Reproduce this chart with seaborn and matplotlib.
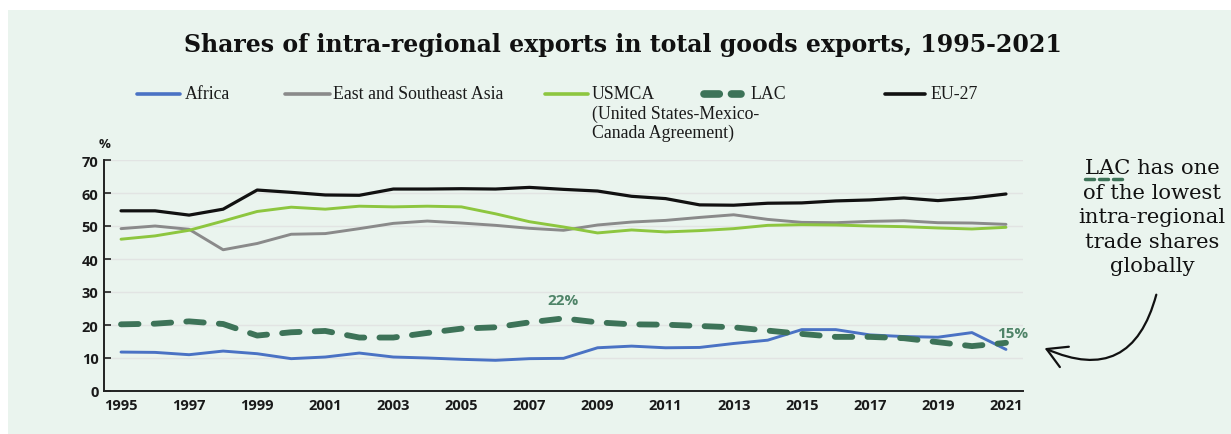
import numpy as np
import pandas as pd
import seaborn as sns
import matplotlib.pyplot as plt
from matplotlib.lines import Line2D
from matplotlib.patches import Rectangle, FancyArrowPatch

# Intra-regional exports as a share of total goods exports (%)
years = list(range(1995, 2022))
africa = [11.8, 11.7, 11.0, 12.1, 11.3, 9.8, 10.3, 11.5, 10.3, 10.0, 9.6, 9.3, 9.8, 9.9,
          13.1, 13.6, 13.1, 13.2, 14.4, 15.4, 18.6, 18.6, 17.0, 16.5, 16.3, 17.7, 12.6]
east_se_asia = [49.2, 50.0, 49.0, 42.8, 44.7, 47.5, 47.7, 49.2, 50.8, 51.5, 50.9, 50.2, 49.3, 48.7,
                50.3, 51.2, 51.7, 52.6, 53.4, 52.0, 51.1, 51.0, 51.4, 51.6, 51.0, 50.9, 50.5]
usmca = [46.0, 47.0, 48.7, 51.5, 54.4, 55.7, 55.1, 56.0, 55.8, 56.0, 55.8, 53.7, 51.3, 49.7,
         47.9, 48.8, 48.2, 48.6, 49.2, 50.2, 50.4, 50.3, 50.0, 49.8, 49.4, 49.1, 49.6]
lac = [20.2, 20.4, 21.1, 20.3, 16.8, 17.8, 18.2, 16.2, 16.2, 17.6, 18.9, 19.3, 20.8, 22.0,
       20.8, 20.2, 20.1, 19.7, 19.3, 18.3, 17.3, 16.4, 16.4, 16.0, 14.8, 13.6, 14.6]
eu27 = [54.6, 54.6, 53.3, 55.1, 60.9, 60.2, 59.4, 59.3, 61.2, 61.2, 61.3, 61.2, 61.7, 61.1,
        60.6, 59.0, 58.3, 56.4, 56.3, 56.9, 57.0, 57.6, 57.9, 58.5, 57.7, 58.5, 59.7]

regions = ["Africa", "East and Southeast Asia", "USMCA", "LAC", "EU-27"]
legend_labels = [["Africa"], ["East and Southeast Asia"],
                 ["USMCA", "(United States-Mexico-", "Canada Agreement)"], ["LAC"], ["EU-27"]]
y_ticks = [0, 10, 20, 30, 40, 50, 60, 70]
x_labels = [str(y) for y in years if y % 2 == 1]
note_lines = ["LAC has one", "of the lowest", "intra-regional", "trade shares", "globally"]

BG = "#eaf4ee"
colors = {"Africa": "#4a72c4", "East and Southeast Asia": "#8a8a8a",
          "USMCA": "#8dc63f", "LAC": "#3d7358", "EU-27": "#111111"}
LAC_LABEL = "#4f8468"
SANS = ["Open Sans", "DejaVu Sans"]

df = pd.DataFrame({"year": years, "Africa": africa, "East and Southeast Asia": east_se_asia,
                   "USMCA": usmca, "LAC": lac, "EU-27": eu27})
long = df.melt(id_vars="year", var_name="region", value_name="share")

sns.set_theme(style="white")
plt.rcParams["font.family"] = ["DejaVu Sans"]

W, H = 1231, 435
fig = plt.figure(figsize=(W / 100, H / 100), dpi=100)
fig.patch.set_facecolor("white")
fig.add_artist(Rectangle((8 / W, 0), 1 - 8 / W, 1 - 11 / H, transform=fig.transFigure,
                         facecolor=BG, edgecolor="none", zorder=-10))


def fx(px):
    return px / W


def fy(py):
    return (H - py) / H


ax = fig.add_axes([fx(104), fy(392), (1023 - 104) / W, (392 - 161) / H])
ax.set_facecolor("none")

styles = {
    "Africa": dict(lw=2.1),
    "East and Southeast Asia": dict(lw=2.1),
    "USMCA": dict(lw=2.1),
    "LAC": dict(lw=4.2, linestyle=(0, (3.0, 2.6)), dash_capstyle="round"),
    "EU-27": dict(lw=2.3),
}
for name in regions:
    sub = long[long["region"] == name]
    sns.lineplot(data=sub, x="year", y="share", color=colors[name], ax=ax,
                 legend=False, **styles[name])

ax.set_xlim(1994.5, 2021.5)
ax.set_ylim(0, 70)
ax.set_xticks([int(l) for l in x_labels])
ax.set_xticklabels(x_labels)
ax.set_xticks(np.arange(1994.5, 2022, 1.0), minor=True)
ax.set_yticks(y_ticks)
ax.set_xlabel("")
ax.set_ylabel("")
ax.tick_params(axis="x", which="major", length=0, pad=5)
ax.tick_params(axis="x", which="minor", direction="in", length=5, width=1.2, color="#222222")
ax.tick_params(axis="y", direction="in", length=5, width=1.2, color="#222222", pad=4, left=True)
for lab in ax.get_xticklabels() + ax.get_yticklabels():
    lab.set_fontfamily(SANS)
    lab.set_fontweight("bold")
    lab.set_fontsize(10.5)
    lab.set_color("#1a1a1a")
for side in ("top", "right"):
    ax.spines[side].set_visible(False)
for side in ("left", "bottom"):
    ax.spines[side].set_color("#222222")
    ax.spines[side].set_linewidth(1.4)
ax.grid(axis="y", color="#e2e4e3", lw=1)
ax.set_axisbelow(True)

# value call-outs on the LAC series
i_peak = years.index(2008)
ax.annotate(f"{round(lac[i_peak])}%", (years[i_peak], lac[i_peak]), xytext=(0, 13),
            textcoords="offset points", ha="center", va="center", fontsize=11,
            fontweight="bold", color=LAC_LABEL, fontfamily=SANS)
ax.annotate(f"{round(lac[-1])}%", (years[-1], lac[-1]), xytext=(5, 7),
            textcoords="offset points", ha="center", va="center", fontsize=11,
            fontweight="bold", color=LAC_LABEL, fontfamily=SANS)

fig.text(fx(105), fy(145), "%", ha="center", va="center", fontsize=9.5,
         fontweight="bold", color="#1a1a1a", fontfamily=SANS)

# title
fig.text(fx(623), fy(45), "Shares of intra-regional exports in total goods exports, 1995-2021",
         ha="center", va="center", fontsize=17, fontweight="bold", color="#111111",
         fontfamily=["DejaVu Serif"])

# legend row
leg_y = 95
handles = [(137, 180), (285, 330), (545, 588), (700, 745), (885, 925)]
text_x = [185, 333, 592, 750, 930]
for name, lines, (x0, x1), tx in zip(regions, legend_labels, handles, text_x):
    if name == "LAC":
        fig.add_artist(Line2D([fx(x0 + 4), fx(x1 - 4)], [fy(leg_y), fy(leg_y)],
                              transform=fig.transFigure, color=colors[name], lw=5.5,
                              linestyle=(0, (2.0, 1.6)), dash_capstyle="round"))
    else:
        fig.add_artist(Line2D([fx(x0), fx(x1)], [fy(leg_y), fy(leg_y)],
                              transform=fig.transFigure, color=colors[name], lw=2.6))
    for k, line in enumerate(lines):
        fig.text(fx(tx), fy(leg_y + 19 * k), line, ha="left", va="center", fontsize=12.8,
                 color="#1a1a1a", fontfamily=["Liberation Serif"])

# side note with arrow
for k, line in enumerate(note_lines):
    fig.text(fx(1152), fy(169 + 24.5 * k), line, ha="center", va="center", fontsize=15.2,
             color="#111111", fontfamily=["DejaVu Serif"])
for x0 in (1085, 1099, 1113):
    fig.add_artist(Line2D([fx(x0), fx(x0 + 9)], [fy(180), fy(180)], transform=fig.transFigure,
                          color=colors["LAC"], lw=2.5, solid_capstyle="round"))
fig.add_artist(FancyArrowPatch((fx(1157), fy(293)), (fx(1042), fy(348)),
                               transform=fig.transFigure, connectionstyle="arc3,rad=-0.6",
                               arrowstyle="->,head_length=14,head_width=8", lw=1.6,
                               color="#111111", mutation_scale=1))

fig.savefig("out.png", dpi=100, facecolor=fig.get_facecolor())
